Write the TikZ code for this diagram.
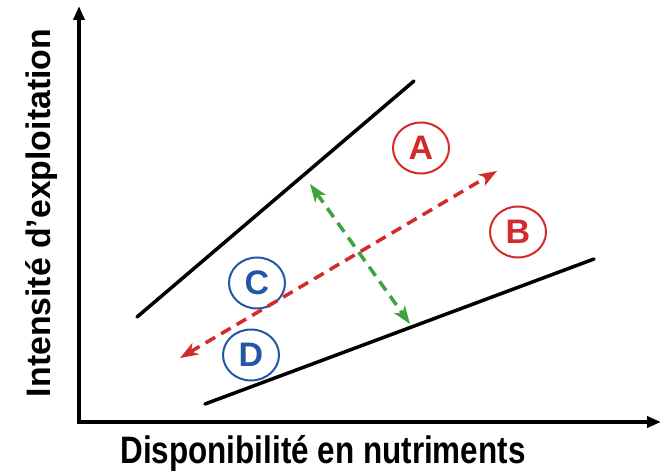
\documentclass[tikz,border=0pt]{standalone}
\usepackage{fontspec}
\setmainfont{Liberation Sans}
\usetikzlibrary{arrows.meta,shapes.geometric}
\definecolor{cred}{HTML}{D42A2A}
\definecolor{cblue}{HTML}{2456A6}
\definecolor{cgreen}{HTML}{3EA33A}
\begin{document}
\begin{tikzpicture}[x=1pt,y=-1pt,
  axis/.style={line width=3.5pt,{Triangle[length=14pt,width=11pt]}-{Triangle[length=14pt,width=11pt]}},
  bound/.style={line width=3.5pt,line cap=round},
  reddash/.style={cred,line width=3.5pt,dash pattern=on 11pt off 7pt,{Stealth[length=18pt,width=13pt,inset=5pt]}-{Stealth[length=18pt,width=13pt,inset=5pt]}},
  greendash/.style={cgreen,line width=3.5pt,dash pattern=on 11pt off 7pt,{Stealth[length=18pt,width=13pt,inset=5pt]}-{Stealth[length=18pt,width=13pt,inset=5pt]}},
  zone/.style={ellipse,draw,line width=2pt,minimum width=56pt,minimum height=51pt,inner sep=0pt,font=\fontsize{34}{36}\selectfont\bfseries},
  lab/.style={inner sep=0pt}]
\useasboundingbox (0,0) rectangle (661,473);
\coordinate (O) at (79,422);
\coordinate (Y) at (79,6);
\coordinate (X) at (661,422);
\draw[axis] (Y) -- (O) -- (X);
\coordinate (U1) at (137,317);
\coordinate (U2) at (414,81);
\coordinate (L1) at (205,404);
\coordinate (L2) at (594,259);
\draw[bound] (U1) -- (U2);
\draw[bound] (L1) -- (L2);
\node[zone,cred] (A) at (421,148) {A};
\node[zone,cred] (B) at (518,232) {B};
\node[zone,cblue] (C) at (257,283) {C};
\node[zone,cblue] (D) at (251,355) {D};
\coordinate (R1) at (180,358);
\coordinate (R2) at (497,171);
\coordinate (G1) at (310,184);
\coordinate (G2) at (410,324);
\draw[reddash] (R1) -- (R2);
\draw[greendash] (G1) -- (G2);
\node[lab] (xl) at (323,453) {\resizebox*{405pt}{36pt}{\bfseries Disponibilité en nutriments}};
\node[lab,rotate=90] (yl) at (42,213) {\resizebox*{368pt}{32pt}{\bfseries Intensité d’exploitation}};
\end{tikzpicture}
\end{document}
